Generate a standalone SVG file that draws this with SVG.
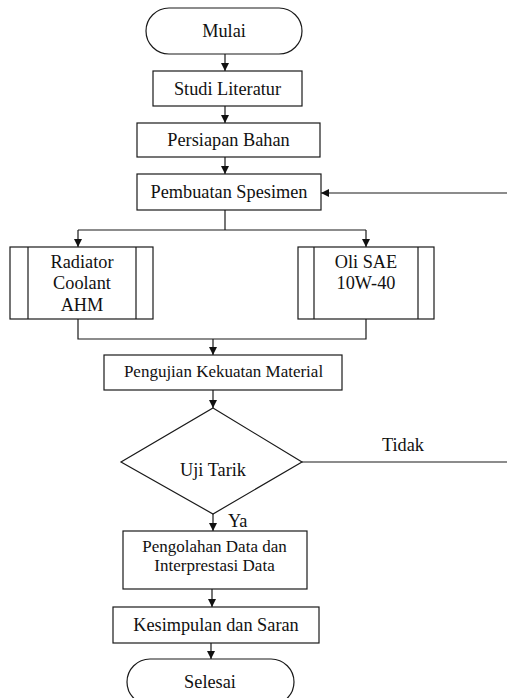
<svg xmlns="http://www.w3.org/2000/svg" width="507" height="698" viewBox="0 0 507 698">
<style>
.s{fill:#fff;stroke:#1a1a1a;stroke-width:1.2}
.l{fill:none;stroke:#1a1a1a;stroke-width:1.2}
.t{font-family:'Liberation Serif','DejaVu Serif',serif;font-size:18.3px;fill:#111;text-anchor:middle}
.sm{font-size:17px}
</style>
<defs>
<marker id="a" markerUnits="userSpaceOnUse" markerWidth="9" markerHeight="9" refX="8" refY="4" orient="auto">
<path d="M0,0 L8,4 L0,8 z" fill="#111"/>
</marker>
</defs>
<rect width="507" height="698" fill="#fff"/>
<g id="connectors">
<path class="l" d="M225,54 V71" marker-end="url(#a)"/>
<path class="l" d="M225,106 V123" marker-end="url(#a)"/>
<path class="l" d="M225,157 V174" marker-end="url(#a)"/>
<path class="l" d="M225,210 V230"/>
<path class="l" d="M78,230 H366"/>
<path class="l" d="M78,230 V247" marker-end="url(#a)"/>
<path class="l" d="M366,230 V247" marker-end="url(#a)"/>
<path class="l" d="M78,319 V339 H366 V319"/>
<path class="l" d="M213,339 V355" marker-end="url(#a)"/>
<path class="l" d="M213,390 V408" marker-end="url(#a)"/>
<path class="l" d="M213,514 V531" marker-end="url(#a)"/>
<path class="l" d="M212,589 V607" marker-end="url(#a)"/>
<path class="l" d="M211,643 V659" marker-end="url(#a)"/>
<path class="l" d="M302,462 H507"/>
<path class="l" d="M507,193 H321" marker-end="url(#a)"/>
<text class="t" x="403" y="451">Tidak</text>
<text class="t" x="228" y="527" style="text-anchor:start">Ya</text>
</g>
<g id="mulai">
<rect class="s" x="146" y="8" width="156" height="46" rx="23"/>
<text class="t" x="224" y="37">Mulai</text>
</g>
<g id="studi">
<rect class="s" x="153" y="71" width="149" height="35"/>
<text class="t" x="227.5" y="95">Studi Literatur</text>
</g>
<g id="persiapan">
<rect class="s" x="137" y="123" width="183" height="34"/>
<text class="t" x="228.5" y="146">Persiapan Bahan</text>
</g>
<g id="pembuatan">
<rect class="s" x="137" y="174" width="184" height="36"/>
<text class="t" x="229" y="198">Pembuatan Spesimen</text>
</g>
<g id="radiator">
<rect class="s" x="10" y="247" width="143" height="72"/>
<path class="l" d="M28,247 V319 M136,247 V319"/>
<text class="t" x="82" y="268">Radiator</text>
<text class="t" x="82" y="289">Coolant</text>
<text class="t" x="82" y="311">AHM</text>
</g>
<g id="oli">
<rect class="s" x="298" y="247" width="136" height="72"/>
<path class="l" d="M314,247 V319 M418,247 V319"/>
<text class="t" x="366" y="268">Oli SAE</text>
<text class="t" x="366" y="289">10W-40</text>
</g>
<g id="pengujian">
<rect class="s" x="104" y="355" width="238" height="35"/>
<text class="t sm" x="223.5" y="377">Pengujian Kekuatan Material</text>
</g>
<g id="ujitarik">
<path class="s" d="M213,408 L302,462 L213,514 L121,462 Z"/>
<text class="t" x="213" y="476">Uji Tarik</text>
</g>
<g id="pengolahan">
<rect class="s" x="123" y="531" width="184" height="58"/>
<text class="t sm" x="214.5" y="552">Pengolahan Data dan</text>
<text class="t sm" x="214.5" y="571">Interprestasi Data</text>
</g>
<g id="kesimpulan">
<rect class="s" x="113" y="607" width="206" height="36"/>
<text class="t" x="216" y="631">Kesimpulan dan Saran</text>
</g>
<g id="selesai">
<rect class="s" x="127" y="659" width="167" height="46" rx="23"/>
<text class="t" x="210" y="688">Selesai</text>
</g>
</svg>
